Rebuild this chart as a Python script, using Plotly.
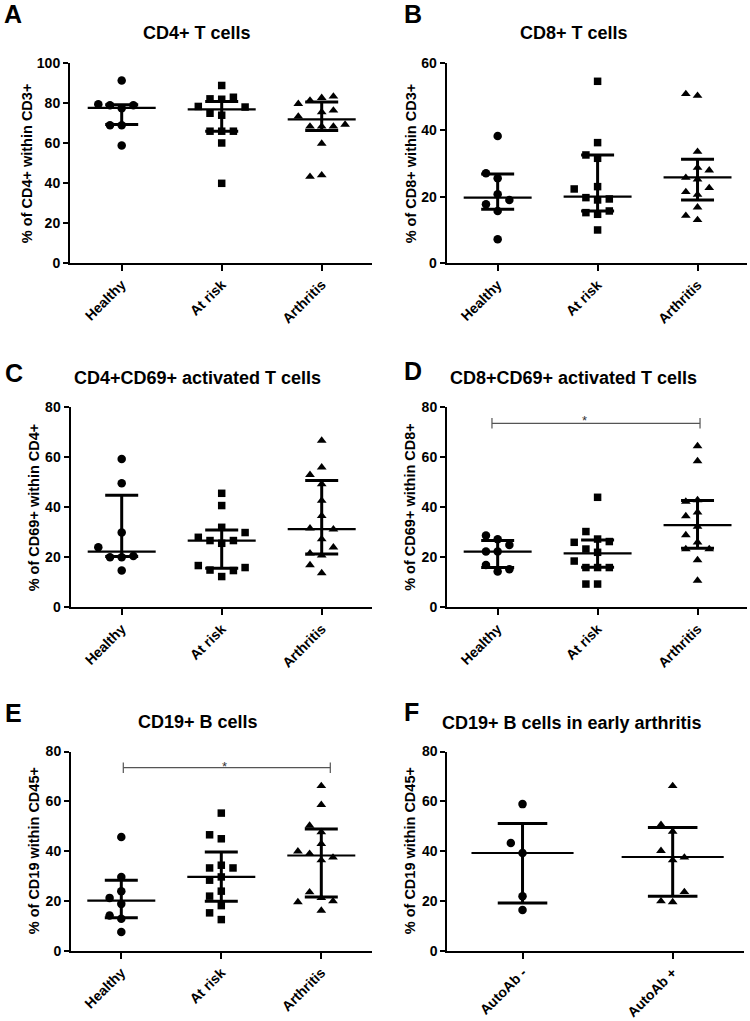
import plotly.graph_objects as go

W, H = 750, 1021
FONT = "Arial, 'Liberation Sans', Helvetica, sans-serif"

# ---------------- data ----------------
groups_3 = ["Healthy", "At risk", "Arthritis"]
groups_f = ["AutoAb -", "AutoAb +"]

# A: CD4+ T cells (% within CD3+)
cd4_healthy = [91.4, 77.5, 79.0, 79.0, 79.5, 69.0, 69.0, 58.8]
cd4_atrisk = [88.9, 82.0, 82.2, 83.0, 78.4, 78.1, 74.0, 75.0, 66.0, 66.0, 66.0, 60.1, 39.9]
cd4_arthritis = [82.7, 81.4, 83.4, 75.6, 76.4, 79.7, 68.4, 68.4, 68.4, 73.4, 69.3, 59.8, 44.0, 43.2]
cd4_median = [77.7, 76.9, 71.9]
cd4_q1 = [69.4, 66.0, 66.4]
cd4_q3 = [79.2, 80.9, 80.6]

# B: CD8+ T cells (% within CD3+)
cd8_healthy = [38.2, 25.5, 20.7, 15.7, 7.2, 27.0, 17.7, 19.0]
cd8_atrisk = [54.6, 36.2, 31.5, 32.5, 19.0, 19.7, 19.3, 14.7, 15.2, 15.7, 10.0, 23.0, 22.3]
cd8_arthritis = [50.3, 50.8, 33.5, 25.2, 25.7, 27.9, 20.6, 22.6, 21.4, 16.8, 13.0, 14.3, 28.7]
cd8_median = [19.7, 20.0, 25.8]
cd8_q1 = [16.2, 15.7, 19.0]
cd8_q3 = [26.8, 32.5, 31.2]

# C: CD4+CD69+ (% within CD4+)
cd4cd69_healthy = [59.3, 49.6, 29.9, 20.0, 20.0, 20.5, 14.7, 24.0]
cd4cd69_atrisk = [40.7, 45.6, 32.0, 25.6, 26.7, 26.7, 28.0, 29.9, 12.3, 14.9, 14.7, 16.7, 15.9]
cd4cd69_arthritis = [66.7, 56.0, 49.3, 53.0, 42.7, 36.6, 27.3, 31.6, 31.2, 20.8, 21.6, 24.0, 16.9, 13.7]
cd4cd69_median = [22.3, 26.7, 31.3]
cd4cd69_q1 = [20.3, 15.6, 21.3]
cd4cd69_q3 = [44.8, 30.9, 50.7]

# D: CD8+CD69+ (% within CD8+)
cd8cd69_healthy = [27.2, 28.7, 22.3, 22.3, 24.9, 14.3, 16.9, 15.2]
cd8cd69_atrisk = [44.0, 27.3, 30.3, 26.3, 26.0, 22.0, 23.3, 15.9, 15.9, 15.9, 18.5, 9.3, 9.3]
cd8cd69_arthritis = [64.5, 58.5, 38.0, 42.9, 42.3, 32.3, 36.5, 28.9, 26.0, 23.3, 23.3, 18.9, 10.7]
cd8cd69_median = [22.3, 21.6, 32.9]
cd8cd69_q1 = [15.9, 16.0, 23.6]
cd8cd69_q3 = [26.7, 26.9, 42.7]

# E: CD19+ B cells (% within CD45+)
cd19_healthy = [45.7, 29.7, 24.0, 18.9, 21.3, 12.9, 14.2, 7.6]
cd19_atrisk = [55.3, 45.0, 46.6, 29.7, 33.3, 33.3, 34.4, 28.4, 24.0, 22.0, 18.2, 15.3, 12.6]
cd19_arthritis = [66.2, 58.6, 47.7, 50.3, 43.0, 36.4, 39.0, 37.5, 40.0, 21.3, 23.6, 20.0, 19.6, 16.2]
cd19_median = [20.2, 29.7, 38.3]
cd19_q1 = [13.3, 20.0, 21.7]
cd19_q3 = [28.4, 39.7, 48.9]

# F: CD19+ B cells in early arthritis
cd19ea_neg = [58.9, 39.3, 43.3, 22.0, 16.4]
cd19ea_pos = [66.2, 47.9, 50.6, 36.4, 40.2, 37.5, 19.6, 20.0, 23.7]
cd19ea_median = [39.3, 37.7]
cd19ea_q1 = [19.2, 22.0]
cd19ea_q3 = [51.1, 49.5]

# significance brackets (group i vs group j, label)
sig_d = (0, 2, "*")
sig_e = (0, 2, "*")

# ---------------- layout helpers ----------------
def px(x):
    return x / W


def py(y):
    return 1 - y / H


SYMBOLS = {"Healthy": "circle", "At risk": "square", "Arthritis": "triangle-up",
           "AutoAb -": "circle", "AutoAb +": "triangle-up"}
SIZES = {"circle": 8.5, "square": 7.5, "triangle-up": 8.5}

panels = [
    dict(letter="A", title="CD4+ T cells", ytitle="% of CD4+ within CD3+", cats=groups_3,
         series=[cd4_healthy, cd4_atrisk, cd4_arthritis], med=cd4_median, q1=cd4_q1, q3=cd4_q3,
         ymax=100, dtick=20, rect=(70, 372, 63.3, 263), xr=(-0.517, 2.503),
         letter_xy=(1.5, 14), title_xy=(197, 33), ytitle_x=27, sig=None),
    dict(letter="B", title="CD8+ T cells", ytitle="% of CD8+ within CD3+", cats=groups_3,
         series=[cd8_healthy, cd8_atrisk, cd8_arthritis], med=cd8_median, q1=cd8_q1, q3=cd8_q3,
         ymax=60, dtick=20, rect=(446.7, 747, 63.3, 263.3), xr=(-0.51, 2.495),
         letter_xy=(401.5, 14), title_xy=(574, 33), ytitle_x=411, sig=None),
    dict(letter="C", title="CD4+CD69+ activated T cells", ytitle="% of CD69+ within CD4+", cats=groups_3,
         series=[cd4cd69_healthy, cd4cd69_atrisk, cd4cd69_arthritis], med=cd4cd69_median,
         q1=cd4cd69_q1, q3=cd4cd69_q3,
         ymax=80, dtick=20, rect=(70.5, 372, 407.3, 607.3), xr=(-0.512, 2.503),
         letter_xy=(2.5, 372.5), title_xy=(197, 378), ytitle_x=34, sig=None),
    dict(letter="D", title="CD8+CD69+ activated T cells", ytitle="% of CD69+ within CD8+", cats=groups_3,
         series=[cd8cd69_healthy, cd8cd69_atrisk, cd8cd69_arthritis], med=cd8cd69_median,
         q1=cd8cd69_q1, q3=cd8cd69_q3,
         ymax=80, dtick=20, rect=(447, 747, 407.3, 607.3), xr=(-0.507, 2.495),
         letter_xy=(401.5, 371), title_xy=(573, 378), ytitle_x=410.5,
         sig=dict(pair=sig_d, y=73.6, x0=-0.057, x1=2.025, sx=0.87, sy=74.8)),
    dict(letter="E", title="CD19+ B cells", ytitle="% of CD19 within CD45+", cats=groups_3,
         series=[cd19_healthy, cd19_atrisk, cd19_arthritis], med=cd19_median, q1=cd19_q1, q3=cd19_q3,
         ymax=80, dtick=20, rect=(71, 372, 751.5, 951), xr=(-0.503, 2.507),
         letter_xy=(2.5, 712.5), title_xy=(198, 722), ytitle_x=34,
         sig=dict(pair=sig_e, y=73.5, x0=0.02, x1=2.09, sx=1.03, sy=73.9)),
    dict(letter="F", title="CD19+ B cells in early arthritis", ytitle="% of CD19 within CD45+", cats=groups_f,
         series=[cd19ea_neg, cd19ea_pos], med=cd19ea_median, q1=cd19ea_q1, q3=cd19ea_q3,
         ymax=80, dtick=20, rect=(447.3, 744.3, 751.5, 951), xr=(-0.501, 1.477),
         letter_xy=(401.5, 712), title_xy=(572, 723), ytitle_x=410, sig=None),
]


def beeswarm(vals, px_per_unit, thresh=11.5):
    order = [0, -1, 1, -2, 2, -3, 3, -4, 4]
    placed = []
    slots = []
    for v in vals:
        chosen = order[-1]
        for s in order:
            if all(not (ps == s and abs(pv - v) * px_per_unit < thresh) for ps, pv in placed):
                chosen = s
                break
        placed.append((chosen, v))
        slots.append(chosen)
    return slots


fig = go.Figure()
layout = dict(template="none", width=W, height=H,
              margin=dict(l=0, r=0, t=0, b=0, pad=0, autoexpand=False),
              plot_bgcolor="white", paper_bgcolor="white", showlegend=False,
              font=dict(family=FONT, color="black"))
annotations = []

STEP_PX = 11.7
MED_HALF = 0.34
CAP_HALF = 0.165

for k, p in enumerate(panels):
    n = k + 1
    xa = "x" if n == 1 else f"x{n}"
    ya = "y" if n == 1 else f"y{n}"
    xl = "xaxis" if n == 1 else f"xaxis{n}"
    yl = "yaxis" if n == 1 else f"yaxis{n}"
    x0, x1, yt, yb = p["rect"]
    px_per_cat = (x1 - x0) / (p["xr"][1] - p["xr"][0])
    px_per_unit = (yb - yt) / p["ymax"]
    step = STEP_PX / px_per_cat

    # data points
    for i, (cat, vals) in enumerate(zip(p["cats"], p["series"])):
        slots = beeswarm(vals, px_per_unit)
        sym = SYMBOLS[cat]
        fig.add_trace(go.Scatter(
            x=[i + s * step for s in slots], y=vals, mode="markers",
            marker=dict(symbol=sym, size=SIZES[sym], color="black", line=dict(width=0)),
            xaxis=xa, yaxis=ya, hoverinfo="skip", cliponaxis=False))

    # median lines
    mx, my = [], []
    for i, m in enumerate(p["med"]):
        mx += [i - MED_HALF, i + MED_HALF, None]
        my += [m, m, None]
    fig.add_trace(go.Scatter(x=mx, y=my, mode="lines", line=dict(color="black", width=2.2),
                             xaxis=xa, yaxis=ya, hoverinfo="skip"))
    # IQR whiskers with caps
    wx, wy = [], []
    for i, (lo, hi) in enumerate(zip(p["q1"], p["q3"])):
        wx += [i, i, None, i - CAP_HALF, i + CAP_HALF, None, i - CAP_HALF, i + CAP_HALF, None]
        wy += [lo, hi, None, lo, lo, None, hi, hi, None]
    fig.add_trace(go.Scatter(x=wx, y=wy, mode="lines", line=dict(color="black", width=3),
                             xaxis=xa, yaxis=ya, hoverinfo="skip"))

    # significance bracket
    if p["sig"]:
        s = p["sig"]
        t = 2.1
        bx = [s["x0"], s["x1"], None, s["x0"], s["x0"], None, s["x1"], s["x1"]]
        by = [s["y"], s["y"], None, s["y"] - t, s["y"] + t, None, s["y"] - t, s["y"] + t]
        fig.add_trace(go.Scatter(x=bx, y=by, mode="lines", line=dict(color="#555555", width=1.2),
                                 xaxis=xa, yaxis=ya, hoverinfo="skip", cliponaxis=False))
        annotations.append(dict(x=s["sx"], y=s["sy"], xref=xa, yref=ya, text=s["pair"][2],
                                showarrow=False, font=dict(size=13, color="#333333", family=FONT),
                                xanchor="center", yanchor="middle"))

    layout[xl] = dict(domain=[px(x0), px(x1)], anchor=ya, range=list(p["xr"]), automargin=False,
                      tickmode="array", tickvals=list(range(len(p["cats"]))), ticktext=p["cats"],
                      tickangle=-45, ticks="outside", ticklen=6, tickwidth=2, tickcolor="black",
                      showline=True, linewidth=2, linecolor="black", showgrid=False, zeroline=False,
                      tickfont=dict(size=14, family=FONT, color="black", weight="bold"), fixedrange=True)
    layout[yl] = dict(domain=[py(yb), py(yt)], anchor=xa, range=[0, p["ymax"]], dtick=p["dtick"],
                      tick0=0, ticks="outside", ticklen=5, tickwidth=2, tickcolor="black", automargin=False,
                      showline=True, linewidth=2, linecolor="black", showgrid=False, zeroline=False,
                      tickfont=dict(size=14, family=FONT, color="black", weight="bold"), fixedrange=True)

    # texts
    lx, ly = p["letter_xy"]
    annotations.append(dict(x=px(lx), y=py(ly), xref="paper", yref="paper", text=p["letter"],
                            showarrow=False, xanchor="left", yanchor="middle",
                            font=dict(size=25, family=FONT, color="black", weight="bold")))
    tx, ty = p["title_xy"]
    annotations.append(dict(x=px(tx), y=py(ty), xref="paper", yref="paper", text=p["title"],
                            showarrow=False, xanchor="center", yanchor="middle",
                            font=dict(size=18, family=FONT, color="black", weight="bold")))
    annotations.append(dict(x=px(p["ytitle_x"]), y=py((yt + yb) / 2), xref="paper", yref="paper",
                            text=p["ytitle"], textangle=-90, showarrow=False,
                            xanchor="center", yanchor="middle",
                            font=dict(size=14.5, family=FONT, color="black", weight="bold")))

layout["annotations"] = annotations
fig.update_layout(**layout)
fig.write_html("out.html", config={"displayModeBar": False},
               post_script="document.body.style.margin='0';document.body.style.overflow='hidden';")
